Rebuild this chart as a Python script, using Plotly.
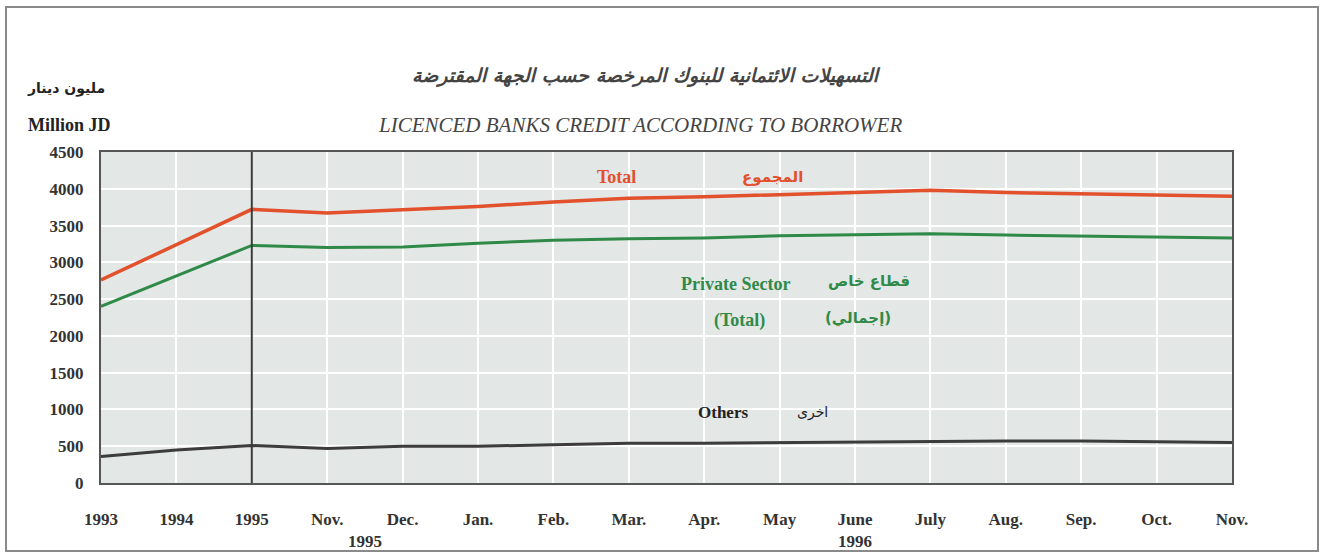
import plotly.graph_objects as go

categories = ["1993", "1994", "1995", "Nov.", "Dec.", "Jan.", "Feb.", "Mar.", "Apr.",
              "May", "June", "July", "Aug.", "Sep.", "Oct.", "Nov. "]
tick_text = ["1993", "1994", "1995", "Nov.", "Dec.", "Jan.", "Feb.", "Mar.", "Apr.",
             "May", "June", "July", "Aug.", "Sep.", "Oct.", "Nov."]
total = [2760, 3240, 3720, 3670, 3710, 3760, 3820, 3870, 3890, 3920, 3940, 3980, 3950, 3930, 3910, 3900]
private_sector = [2400, 2810, 3230, 3200, 3210, 3260, 3300, 3320, 3330, 3360, 3380, 3390, 3370, 3360, 3350, 3330]
others = [360, 450, 510, 470, 500, 500, 520, 540, 540, 550, 560, 570, 570, 570, 560, 550]
y_ticks = [0, 500, 1000, 1500, 2000, 2500, 3000, 3500, 4000, 4500]

W, H = 1324, 556
L, R, T, B = 101, 1232, 152, 483

def px(x):
    return (x - L) / (R - L)

def py(y):
    return (B - y) / (B - T)

xi = list(range(len(categories)))
RED = "#e2502c"
GREEN = "#2f8a48"
DARK = "#3c3c3c"
SERIF = "Liberation Serif, Times New Roman, serif"
ARAB = "DejaVu Sans, Noto Sans, sans-serif"

fig = go.Figure()
fig.add_trace(go.Scatter(x=xi, y=total, mode="lines", line=dict(color=RED, width=3.5), name="Total"))
fig.add_trace(go.Scatter(x=xi, y=private_sector, mode="lines", line=dict(color=GREEN, width=3), name="Private Sector"))
fig.add_trace(go.Scatter(x=xi, y=others, mode="lines", line=dict(color=DARK, width=3), name="Others"))

ann = []
def add(text, x, y, color="#333", size=16, font=SERIF, xref="x", yref="y", bold=True, italic=False):
    t = text
    if bold:
        t = "<b>" + t + "</b>"
    if italic:
        t = "<i>" + t + "</i>"
    ann.append(dict(text=t, x=x, y=y, xref=xref, yref=yref, showarrow=False,
                    font=dict(color=color, size=size, family=font),
                    xanchor="center", yanchor="middle"))

# series labels
add("Total", 6.84, 4160, RED, 18)
add("المجموع", 8.9, 4160, RED, 15, ARAB)
add("Private Sector", 8.42, 2705, GREEN, 18)
add("قطاع خاص", 10.19, 2746, GREEN, 15, ARAB)
add("(Total)", 8.47, 2216, GREEN, 18)
add("(إجمالي)", 10.04, 2243, GREEN, 15, ARAB)
add("Others", 8.25, 952, "#222", 17)
add("اخرى", 9.43, 952, "#222", 14, ARAB, bold=False)

# titles
add("التسهيلات الائتمانية للبنوك المرخصة حسب الجهة المقترضة", px(646), py(75), "#444", 19, ARAB,
    "paper", "paper", bold=True, italic=True)
add("LICENCED BANKS CREDIT ACCORDING TO BORROWER", px(640), py(125), "#444", 21, SERIF,
    "paper", "paper", bold=False, italic=True)
add("مليون دينار", px(66), py(88), "#222", 14, ARAB, "paper", "paper")
add("Million JD", px(69), py(125), "#222", 18, SERIF, "paper", "paper")

# year sub-labels
add("1995", 3.5, py(541), "#333", 17, SERIF, "x", "paper")
add("1996", 10, py(541), "#333", 17, SERIF, "x", "paper")

shapes = [
    dict(type="line", x0=2, x1=2, y0=0, y1=1, xref="x", yref="paper",
         line=dict(color="#3a3a3a", width=2)),
    dict(type="rect", x0=px(6), x1=px(1318), y0=py(7), y1=py(551), xref="paper", yref="paper",
         line=dict(color="#8a8a8a", width=2), layer="below"),
]

fig.update_layout(
    width=W, height=H,
    margin=dict(l=L, r=W - R, t=T, b=H - B),
    paper_bgcolor="white",
    plot_bgcolor="#e3e7e6",
    showlegend=False,
    annotations=ann,
    shapes=shapes,
    xaxis=dict(
        range=[0, 15], tickmode="array", tickvals=xi, ticktext=["<b>%s</b>" % t for t in tick_text],
        showgrid=True, gridcolor="white", gridwidth=2,
        showline=True, linecolor="#555", linewidth=2, mirror=True,
        ticks="", ticklabelstandoff=20, zeroline=False,
        tickfont=dict(family=SERIF, size=17, color="#333"),
    ),
    yaxis=dict(
        range=[0, 4500], tickmode="array", tickvals=y_ticks, ticktext=["<b>%d</b>" % v for v in y_ticks],
        showgrid=True, gridcolor="white", gridwidth=2,
        showline=True, linecolor="#555", linewidth=2, mirror=True,
        ticks="", ticklabelstandoff=12, zeroline=False,
        tickfont=dict(family=SERIF, size=17, color="#333"),
    ),
)

fig.write_html("out.html", config={"displayModeBar": False},
               post_script="document.body.style.margin='0';document.body.style.overflow='hidden';")
